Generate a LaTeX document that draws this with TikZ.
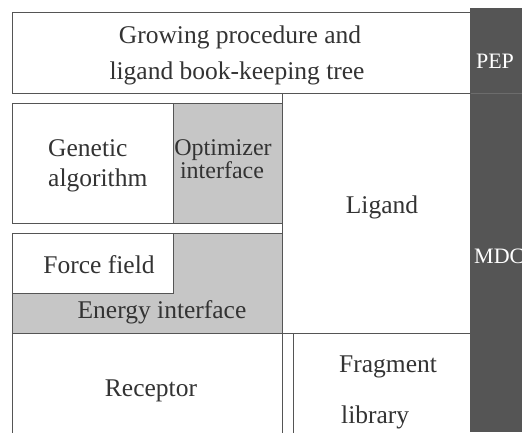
\documentclass[tikz,border=0pt]{standalone}
\usepackage{fontspec}
\setmainfont{Liberation Serif}
\begin{document}
\begin{tikzpicture}[x=1pt,y=-1pt,
  frame/.style={draw=linec,line width=0.9pt},
  lbl/.style={inner sep=0pt,text=txtc,font=\fontsize{25.5}{30}\selectfont},
  lblsm/.style={inner sep=0pt,text=txtc,font=\fontsize{24}{28}\selectfont},
  barlbl/.style={inner sep=0pt,text=white,font=\fontsize{22}{26}\selectfont}]
\definecolor{linec}{HTML}{555555}
\definecolor{txtc}{HTML}{333333}
\definecolor{lightg}{HTML}{C6C6C6}
\definecolor{darkg}{HTML}{555555}
\useasboundingbox (0,0) rectangle (522,432);
\fill[white] (0,0) rectangle (522,432);
% dark side bar
\fill[darkg] (470,8) rectangle (522,432);
\draw[color=gray!85!black,line width=0.6pt] (470,93) -- (522,93);
% top box
\draw[frame] (12,12) rectangle (470,93);
% GA + optimizer
\fill[lightg] (173,103) rectangle (282,223);
\draw[frame] (12,103) rectangle (282,223);
\draw[frame] (173,103) -- (173,223);
% force field + energy interface
\fill[lightg] (12,233) rectangle (282,333);
\fill[white] (12,233) rectangle (173,293);
\draw[frame] (12,233) rectangle (282,333);
\draw[frame] (12,293) -- (173,293) -- (173,233);
% ligand
\draw[frame] (282,93) -- (282,333);
\draw[frame] (12,333) -- (470,333);
% receptor and fragment library
\draw[frame] (12,333) -- (12,440);
\draw[frame] (282,333) -- (282,440);
\draw[frame] (293,333) -- (293,440);
% labels
\node[lbl,anchor=base] (grow1) at (240,43) {Growing procedure and};
\node[lbl,anchor=base] (grow2) at (237,79) {ligand book-keeping tree};
\node[lbl,anchor=base west] (ga1) at (48,156) {Genetic};
\node[lbl,anchor=base west] (ga2) at (48,186) {algorithm};
\node[lblsm,anchor=base] (opt1) at (223,155) {Optimizer};
\node[lblsm,anchor=base] (opt2) at (222,178) {interface};
\node[lbl,anchor=base] (lig) at (382,213) {Ligand};
\node[lbl,anchor=base] (ff) at (99,273) {Force field};
\node[lbl,anchor=base] (ei) at (162,318) {Energy interface};
\node[lbl,anchor=base] (rec) at (151,396) {Receptor};
\node[lbl,anchor=base west] (frag1) at (339,372) {Fragment};
\node[lbl,anchor=base west] (frag2) at (341,423) {library};
\node[barlbl,anchor=base] (pep) at (495,68) {PEP};
\node[barlbl,anchor=base west] (mdc) at (474,263) {MDC};
\end{tikzpicture}
\end{document}
